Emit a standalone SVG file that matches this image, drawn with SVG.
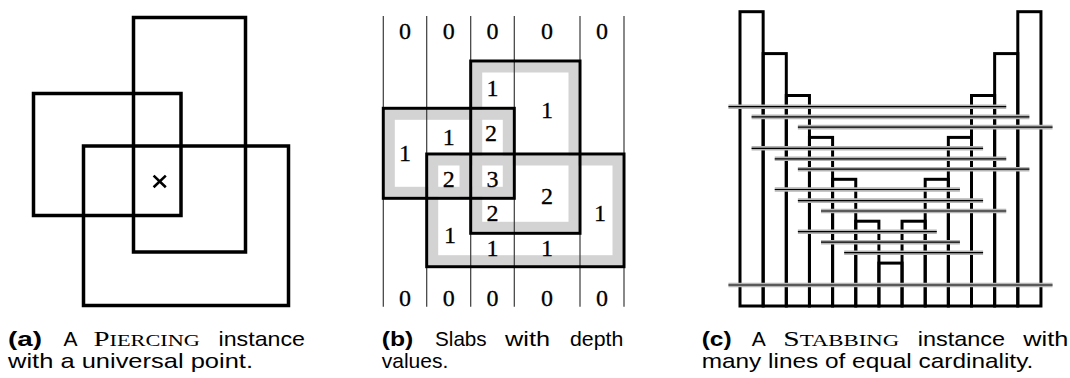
<svg xmlns="http://www.w3.org/2000/svg" width="1070" height="378" viewBox="0 0 1070 378">
<style>
.thick{fill:none;stroke:#000;stroke-width:3.5;stroke-linejoin:miter}
.bthick{fill:none;stroke:#000;stroke-width:3}
.band{fill:none;stroke:#d3d3d3;stroke-width:10}
.slab{stroke:#3a3a3a;stroke-width:1.2}
.num{font-family:"Liberation Serif",serif;font-size:24px;text-anchor:middle;fill:#000;stroke:#000;stroke-width:0.3}
.cap{font-family:"Liberation Sans",Arial,sans-serif;font-size:21px;fill:#000}
.capb{font-weight:bold}
.sc{font-family:"Liberation Serif",serif}
.bar{fill:none;stroke:#000;stroke-width:3}
.stabg{fill:none;stroke:#b5b5b5;stroke-width:4.6}
.stabk{fill:none;stroke:#000;stroke-width:1.2}
</style>
<defs>
<path id="stablines" d="M728.43,106.7H1006.23M751.58,116.9H1029.38M797.88,127.1H1052.53M751.58,148.3H983.08M774.73,158.8H1006.23M797.88,169.2H1029.38M774.73,189.5H959.93M797.88,200.6H983.08M821.03,211H1006.23M797.88,231.7H936.78M821.03,242.2H959.93M844.18,252.7H983.08M728.43,285H1052.53"/>
</defs>

<!-- Panel (a) -->
<g id="panel-a">
  <g id="a-rect-tall"><rect class="thick" x="133.5" y="17.5" width="112" height="234.5"/></g>
  <g id="a-rect-left"><rect class="thick" x="33.5" y="93.5" width="147.5" height="122"/></g>
  <g id="a-rect-bottom"><rect class="thick" x="83.5" y="146" width="205" height="159.5"/></g>
  <g id="a-point"><path d="M153.6,175.6L165.8,187.2M165.8,175.6L153.6,187.2" stroke="#000" stroke-width="2.6" fill="none"/></g>
</g>

<!-- Panel (b) -->
<g id="panel-b">
  <g id="b-bands">
    <rect class="band" x="477.2" y="67.5" width="96.3" height="159.3"/>
    <rect class="band" x="389.8" y="114.8" width="118" height="77"/>
    <rect class="band" x="433.2" y="160.5" width="184.3" height="99.7"/>
    <rect x="459.5" y="154" width="11.2" height="44" fill="#d3d3d3"/>
  </g>
  <g id="b-slabs">
    <line class="slab" x1="383.3" y1="16" x2="383.3" y2="306.7"/>
    <line class="slab" x1="426.7" y1="16" x2="426.7" y2="306.7"/>
    <line class="slab" x1="470.7" y1="16" x2="470.7" y2="306.7"/>
    <line class="slab" x1="514.3" y1="16" x2="514.3" y2="306.7"/>
    <line class="slab" x1="580" y1="16" x2="580" y2="306.7"/>
    <line class="slab" x1="624" y1="16" x2="624" y2="306.7"/>
  </g>
  <g id="b-rects">
    <rect class="bthick" x="470.7" y="61" width="109.3" height="172.3"/>
    <rect class="bthick" x="383.3" y="108.3" width="131" height="90"/>
    <rect class="bthick" x="426.7" y="154" width="197.3" height="112.7"/>
  </g>
  <g id="b-labels">
    <text class="num" x="405" y="39">0</text>
    <text class="num" x="448.7" y="39">0</text>
    <text class="num" x="492.5" y="39">0</text>
    <text class="num" x="547" y="39">0</text>
    <text class="num" x="602" y="39">0</text>
    <text class="num" x="492.5" y="96">1</text>
    <text class="num" x="547" y="117.5">1</text>
    <text class="num" x="405" y="161">1</text>
    <text class="num" x="448.7" y="145">1</text>
    <text class="num" x="491" y="140.5">2</text>
    <text class="num" x="448.8" y="186.5" stroke-width="0.7">2</text>
    <text class="num" x="492.5" y="186.5">3</text>
    <text class="num" x="547" y="203.5">2</text>
    <text class="num" x="492.5" y="220.5">2</text>
    <text class="num" x="600" y="221">1</text>
    <text class="num" x="450" y="242.5">1</text>
    <text class="num" x="492.5" y="255.5">1</text>
    <text class="num" x="547" y="255.5">1</text>
    <text class="num" x="405" y="306">0</text>
    <text class="num" x="448.7" y="306">0</text>
    <text class="num" x="492.5" y="306">0</text>
    <text class="num" x="547" y="306">0</text>
    <text class="num" x="602" y="306">0</text>
  </g>
</g>

<!-- Panel (c) -->
<g id="panel-c">
  <g id="c-bars">
    <rect class="bar" x="740" y="11.7" width="23.15" height="294.3"/>
    <rect class="bar" x="763.15" y="53.6" width="23.15" height="252.4"/>
    <rect class="bar" x="786.3" y="95.5" width="23.15" height="210.5"/>
    <rect class="bar" x="809.45" y="137.4" width="23.15" height="168.6"/>
    <rect class="bar" x="832.6" y="179.3" width="23.15" height="126.7"/>
    <rect class="bar" x="855.75" y="221.2" width="23.15" height="84.8"/>
    <rect class="bar" x="878.9" y="263.1" width="23.15" height="42.9"/>
    <rect class="bar" x="902.05" y="221.2" width="23.15" height="84.8"/>
    <rect class="bar" x="925.2" y="179.3" width="23.15" height="126.7"/>
    <rect class="bar" x="948.35" y="137.4" width="23.15" height="168.6"/>
    <rect class="bar" x="971.5" y="95.5" width="23.15" height="210.5"/>
    <rect class="bar" x="994.65" y="53.6" width="23.15" height="252.4"/>
    <rect class="bar" x="1017.8" y="11.7" width="23.15" height="294.3"/>
  </g>
  <g id="c-lines">
    <use href="#stablines" class="stabg"/>
    <use href="#stablines" class="stabk"/>
  </g>
</g>

<!-- Captions -->
<g id="captions">
  <text class="cap capb" x="8" y="346" textLength="34" lengthAdjust="spacingAndGlyphs">(a)</text>
  <text class="cap" x="63.5" y="346">A</text>
  <text class="cap sc" x="93.5" y="346" textLength="106.5" lengthAdjust="spacingAndGlyphs"><tspan font-size="22">P</tspan><tspan font-size="17">IERCING</tspan></text>
  <text class="cap" x="218.5" y="346" textLength="86.5" lengthAdjust="spacingAndGlyphs">instance</text>
  <text class="cap" x="8" y="368" textLength="245" lengthAdjust="spacingAndGlyphs">with a universal point.</text>

  <text class="cap capb" x="381.7" y="346" textLength="31.6" lengthAdjust="spacingAndGlyphs">(b)</text>
  <text class="cap" x="435" y="346" textLength="51.7" lengthAdjust="spacingAndGlyphs">Slabs</text>
  <text class="cap" x="505" y="346" textLength="45" lengthAdjust="spacingAndGlyphs">with</text>
  <text class="cap" x="570" y="346" textLength="53.3" lengthAdjust="spacingAndGlyphs">depth</text>
  <text class="cap" x="381.7" y="368" textLength="66.6" lengthAdjust="spacingAndGlyphs">values.</text>

  <text class="cap capb" x="701.7" y="346" textLength="30" lengthAdjust="spacingAndGlyphs">(c)</text>
  <text class="cap" x="751.7" y="346">A</text>
  <text class="cap sc" x="783.3" y="346" textLength="116" lengthAdjust="spacingAndGlyphs"><tspan font-size="22">S</tspan><tspan font-size="17">TABBING</tspan></text>
  <text class="cap" x="917.7" y="346" textLength="87.3" lengthAdjust="spacingAndGlyphs">instance</text>
  <text class="cap" x="1023.3" y="346" textLength="45" lengthAdjust="spacingAndGlyphs">with</text>
  <text class="cap" x="701.7" y="368" textLength="331.6" lengthAdjust="spacingAndGlyphs">many lines of equal cardinality.</text>
</g>
</svg>
